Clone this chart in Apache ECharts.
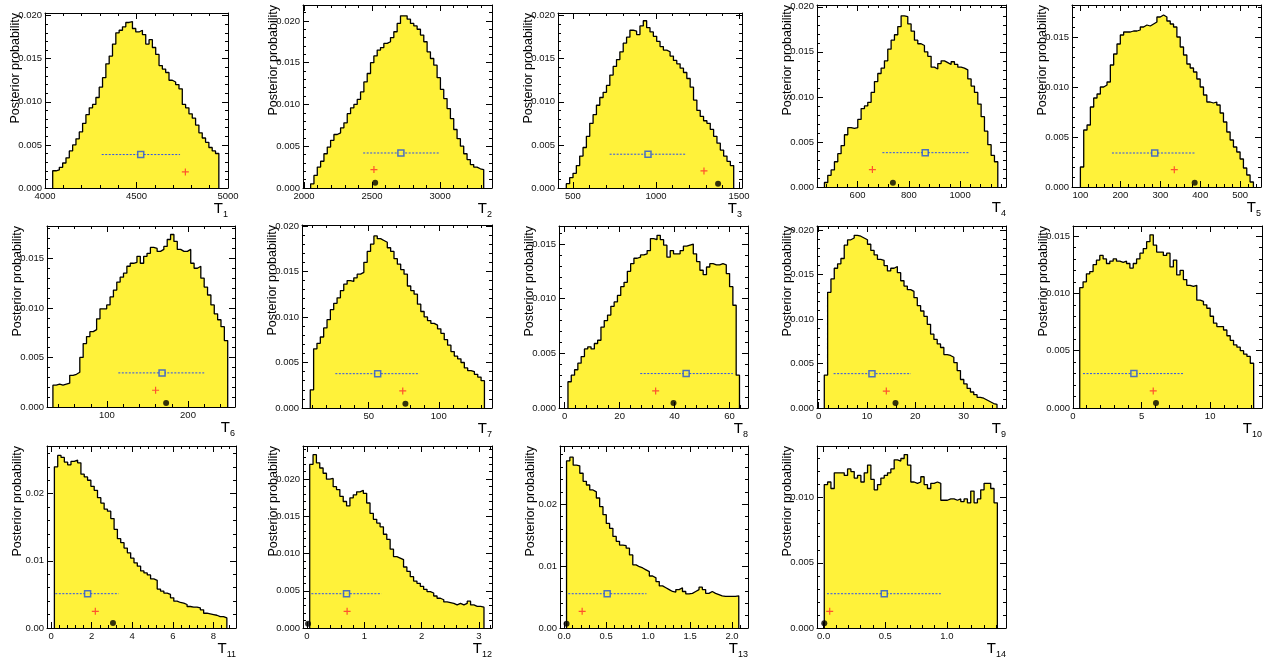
<!DOCTYPE html>
<html><head><meta charset="utf-8">
<script src="https://cdn.jsdelivr.net/npm/echarts@6/dist/echarts.min.js"></script>
<style>html,body{margin:0;padding:0;background:#fff}#c{width:1270px;height:660px}</style>
</head><body><div id="c"></div>
<script>
// ---------------- data ----------------
const subscripts = ['1','2','3','4','5','6','7','8','9','10','11','12','13','14'];
const histStart = [4042, 2049, 460, 471, 100, 33.3, 8.3, 1.2, 1.17, 0.49, 0.164, 0.047, 0.028, 0.005];
const histEnd   = [4950, 3320, 1468, 1147, 533, 249, 132.6, 63.6, 36.9, 13.17, 8.66, 3.09, 2.08, 1.41];
const h1 = [0.0020,0.0021,0.0024,0.0029,0.0035,0.0043,0.0050,0.0057,0.0065,0.0075,
 0.0085,0.0093,0.0097,0.0105,0.0117,0.0128,0.0144,0.0153,0.0167,0.0180,
 0.0183,0.0187,0.0192,0.0193,0.0185,0.0181,0.0183,0.0178,0.0167,0.0172,
 0.0163,0.0155,0.0142,0.0138,0.0134,0.0125,0.0123,0.0120,0.0115,0.0097,
 0.0093,0.0086,0.0081,0.0073,0.0064,0.0058,0.0053,0.0047,0.0043,0.0040];
const h2 = [0.0005,0.0015,0.0025,0.0032,0.0041,0.0049,0.0057,0.0064,0.0066,0.0072,
 0.0078,0.0089,0.0096,0.0100,0.0106,0.0115,0.0127,0.0137,0.0150,0.0158,
 0.0165,0.0168,0.0173,0.0175,0.0180,0.0187,0.0197,0.0206,0.0206,0.0202,
 0.0197,0.0194,0.0190,0.0183,0.0175,0.0163,0.0155,0.0147,0.0132,0.0118,
 0.0107,0.0095,0.0083,0.0070,0.0059,0.0050,0.0041,0.0034,0.0028,0.0025,
 0.0023,0.0022];
const h3 = [0.0005,0.0012,0.0017,0.0026,0.0037,0.0047,0.0060,0.0075,0.0085,0.0096,
 0.0105,0.0111,0.0119,0.0131,0.0141,0.0149,0.0158,0.0168,0.0175,0.0183,
 0.0182,0.0178,0.0188,0.0194,0.0186,0.0181,0.0176,0.0170,0.0164,0.0160,
 0.0158,0.0153,0.0148,0.0144,0.0139,0.0134,0.0127,0.0117,0.0102,0.0090,
 0.0083,0.0078,0.0075,0.0068,0.0060,0.0052,0.0044,0.0037,0.0031,0.0026];
const h4 = [0.0005,0.0013,0.0019,0.0028,0.0037,0.0046,0.0058,0.0066,0.0065,0.0066,
 0.0075,0.0087,0.0090,0.0094,0.0105,0.0117,0.0126,0.0132,0.0140,0.0153,
 0.0163,0.0169,0.0178,0.0190,0.0189,0.0181,0.0173,0.0163,0.0159,0.0157,
 0.0150,0.0145,0.0133,0.0131,0.0137,0.0140,0.0138,0.0136,0.0139,0.0136,
 0.0133,0.0132,0.0130,0.0120,0.0112,0.0105,0.0092,0.0078,0.0062,0.0047,
 0.0035,0.0028];
const h5 = [0.0020,0.0057,0.0062,0.0080,0.0089,0.0093,0.0100,0.0102,0.0105,0.0122,
 0.0133,0.0143,0.0152,0.0155,0.0155,0.0156,0.0156,0.0157,0.0160,0.0162,
 0.0161,0.0163,0.0165,0.0170,0.0172,0.0170,0.0166,0.0163,0.0160,0.0150,
 0.0140,0.0132,0.0123,0.0119,0.0115,0.0108,0.0100,0.0092,0.0085,0.0084,
 0.0085,0.0082,0.0074,0.0065,0.0055,0.0047,0.0040,0.0035,0.0028,0.0019,
 0.0012,0.0005];
const h6 = [0.0022,0.0023,0.0022,0.0023,0.0024,0.0032,0.0033,0.0035,0.0050,0.0064,
 0.0071,0.0076,0.0078,0.0089,0.0099,0.0099,0.0103,0.0111,0.0118,0.0126,
 0.0131,0.0135,0.0142,0.0145,0.0146,0.0152,0.0145,0.0152,0.0155,0.0161,
 0.0160,0.0157,0.0159,0.0162,0.0169,0.0174,0.0167,0.0159,0.0157,0.0157,
 0.0159,0.0145,0.0140,0.0142,0.0130,0.0121,0.0113,0.0103,0.0094,0.0088,
 0.0081,0.0067];
const h7 = [0.0020,0.0065,0.0071,0.0078,0.0088,0.0097,0.0108,0.0115,0.0121,0.0129,
 0.0136,0.0140,0.0139,0.0143,0.0147,0.0149,0.0160,0.0172,0.0180,0.0189,
 0.0186,0.0184,0.0182,0.0176,0.0172,0.0164,0.0158,0.0152,0.0147,0.0134,
 0.0129,0.0125,0.0114,0.0106,0.0100,0.0096,0.0093,0.0091,0.0087,0.0082,
 0.0075,0.0069,0.0062,0.0057,0.0054,0.0050,0.0044,0.0041,0.0040,0.0037,
 0.0034,0.0030];
const h8 = [0.0024,0.0030,0.0035,0.0041,0.0047,0.0054,0.0056,0.0054,0.0059,0.0062,
 0.0074,0.0080,0.0085,0.0093,0.0097,0.0103,0.0111,0.0115,0.0125,0.0132,
 0.0137,0.0138,0.0140,0.0141,0.0144,0.0155,0.0154,0.0158,0.0154,0.0149,
 0.0138,0.0144,0.0141,0.0141,0.0144,0.0148,0.0149,0.0150,0.0141,0.0134,
 0.0126,0.0122,0.0129,0.0132,0.0131,0.0131,0.0132,0.0131,0.0123,0.0111,
 0.0094,0.0030];
const h9 = [0.0037,0.0130,0.0145,0.0157,0.0162,0.0168,0.0183,0.0189,0.0191,0.0194,
 0.0193,0.0191,0.0189,0.0184,0.0177,0.0172,0.0167,0.0166,0.0160,0.0154,
 0.0157,0.0159,0.0152,0.0143,0.0137,0.0133,0.0131,0.0124,0.0115,0.0109,
 0.0103,0.0094,0.0083,0.0077,0.0072,0.0068,0.0060,0.0059,0.0057,0.0051,
 0.0042,0.0032,0.0027,0.0022,0.0018,0.0015,0.0012,0.0011,0.0009,0.0007,
 0.0005,0.0004];
const h10 = [0.0105,0.0110,0.0117,0.0119,0.0125,0.0129,0.0133,0.0130,0.0126,0.0128,
 0.0130,0.0128,0.0127,0.0128,0.0126,0.0122,0.0126,0.0130,0.0135,0.0139,
 0.0145,0.0151,0.0142,0.0136,0.0136,0.0133,0.0135,0.0123,0.0129,0.0116,
 0.0120,0.0112,0.0107,0.0106,0.0107,0.0094,0.0093,0.0090,0.0087,0.0080,
 0.0074,0.0071,0.0071,0.0068,0.0063,0.0059,0.0055,0.0053,0.0050,0.0047,
 0.0045,0.0039];
const h11 = [0.0240,0.0257,0.0254,0.0247,0.0243,0.0248,0.0250,0.0246,0.0229,0.0225,
 0.0220,0.0211,0.0205,0.0194,0.0186,0.0177,0.0174,0.0163,0.0147,0.0133,
 0.0127,0.0119,0.0112,0.0104,0.0097,0.0092,0.0085,0.0082,0.0079,0.0073,
 0.0071,0.0058,0.0055,0.0052,0.0050,0.0045,0.0040,0.0038,0.0037,0.0035,
 0.0032,0.0031,0.0031,0.0030,0.0027,0.0022,0.0021,0.0020,0.0019,0.0017,
 0.0017,0.0015];
const h12 = [0.0220,0.0233,0.0222,0.0215,0.0208,0.0200,0.0201,0.0190,0.0186,0.0177,
 0.0170,0.0164,0.0175,0.0179,0.0183,0.0185,0.0181,0.0168,0.0154,0.0146,
 0.0141,0.0136,0.0126,0.0119,0.0106,0.0096,0.0094,0.0092,0.0082,0.0076,
 0.0069,0.0063,0.0060,0.0056,0.0052,0.0049,0.0047,0.0043,0.0040,0.0038,
 0.0035,0.0034,0.0033,0.0031,0.0033,0.0031,0.0033,0.0036,0.0031,0.0029,
 0.0029,0.0028];
const h13 = [0.0270,0.0276,0.0263,0.0262,0.0250,0.0237,0.0231,0.0223,0.0220,0.0210,
 0.0196,0.0183,0.0169,0.0161,0.0148,0.0140,0.0134,0.0133,0.0129,0.0118,
 0.0102,0.0099,0.0097,0.0094,0.0091,0.0084,0.0081,0.0075,0.0068,0.0065,
 0.0062,0.0059,0.0058,0.0062,0.0065,0.0059,0.0055,0.0056,0.0059,0.0062,
 0.0066,0.0062,0.0056,0.0059,0.0056,0.0054,0.0052,0.0051,0.0051,0.0051,
 0.0051,0.0052];
const h14 = [0.0110,0.0112,0.0107,0.0119,0.0119,0.0119,0.0117,0.0122,0.0120,0.0115,
 0.0117,0.0112,0.0119,0.0125,0.0114,0.0106,0.0110,0.0115,0.0117,0.0119,
 0.0122,0.0129,0.0128,0.0130,0.0133,0.0125,0.0112,0.0111,0.0112,0.0116,
 0.0110,0.0107,0.0111,0.0112,0.0111,0.0098,0.0098,0.0099,0.0099,0.0098,
 0.0099,0.0097,0.0099,0.0096,0.0105,0.0096,0.0099,0.0106,0.0111,0.0111,
 0.0107,0.0096];
const histValues = [h1,h2,h3,h4,h5,h6,h7,h8,h9,h10,h11,h12,h13,h14];

const meanX = [4523, 2712, 952, 864, 286, 168, 56.4, 44.2, 11.03, 4.44, 1.80, 0.69, 0.512, 0.492];
const meanY = [0.00388, 0.00419, 0.00392, 0.00381, 0.0034, 0.00344, 0.00377, 0.00315, 0.00386, 0.0030, 0.00511, 0.00461, 0.00554, 0.00263];
const errLo = [4310, 2435, 721, 697, 179, 114, 26.2, 27.5, 3.1, 0.73, 0.21, 0.076, 0.048, 0.027];
const errHi = [4738, 2993, 1177, 1036, 389, 220, 86.2, 61.2, 19.1, 8.05, 3.33, 1.30, 0.98, 0.951];
const plusX = [4767, 2514, 1289, 658, 335, 160, 74.3, 33.1, 14.0, 5.85, 2.18, 0.70, 0.214, 0.049];
const plusY = [0.00186, 0.0022, 0.00198, 0.00193, 0.00173, 0.00169, 0.00187, 0.00156, 0.0019, 0.00149, 0.00248, 0.00224, 0.00269, 0.00128];
const dotX = [null, 2523, 1374, 738, 386, 173, 76.2, 39.6, 15.9, 6.05, 3.05, 0.018, 0.028, 0.005];
const dotY = [null, 0.00064, 0.0005, 0.00048, 0.00043, 0.0004, 0.00048, 0.00046, 0.00056, 0.00044, 0.00074, 0.00058, 0.0007, 0.00036];

// axis ranges and tick steps
const xMin = [4000, 1993, 410, 442, 79, 26, 2.4, -2.06, -0.34, 0, -0.2, -0.07, -0.05, -0.054];
const xMax = [5000, 3381, 1518, 1179, 552, 258, 138, 66.7, 38.76, 13.78, 9.11, 3.23, 2.19, 1.48];
const yMax = [0.0203, 0.0219, 0.0203, 0.0202, 0.0182, 0.01826, 0.0201, 0.01665, 0.02045, 0.01587, 0.0271, 0.02446, 0.0294, 0.01396];
const xStep = [500, 500, 500, 200, 100, 100, 50, 20, 10, 5, 2, 1, 0.5, 0.5];
const yStep = [0.005,0.005,0.005,0.005,0.005,0.005,0.005,0.005,0.005,0.005,0.01,0.005,0.01,0.005];
const xDecimals = [0,0,0,0,0,0,0,0,0,0,0,0,1,1];
const yDecimals = [3,3,3,3,3,3,3,3,3,3,2,3,2,3];

// ---------------- layout (frame boxes: left, top, right, bottom) ----------------
const frames = [
 [45,13,228,188],[303,5,492,188],[558,13,742,188],[817,5,1006,187],[1072,5,1261,187],
 [47,226,235,407],[302,225,492,408],[559,226,748,408],[817,226,1006,408],[1073,226,1262,408],
 [47,446,236,628],[303,446,492,628],[560,446,748,628],[817,446,1006,628]
];

const FONT = 'Liberation Sans, Arial, Helvetica, sans-serif';
const YELLOW = '#fff23a';
const N = frames.length;

function fmt(step, dec) {
  return function (v) {
    const k = v / step;
    if (Math.abs(k - Math.round(k)) > 1e-6) return '';
    return (Math.round(k) * step).toFixed(dec);
  };
}

const grids = [], xAxes = [], yAxes = [], series = [];
for (let i = 0; i < N; i++) {
  const f = frames[i];
  grids.push({left: f[0], top: f[1], width: f[2] - f[0], height: f[3] - f[1], show: false, containLabel: false, outerBoundsMode: 'none'});
}
function tickCommon() {
  return {
    axisLine: {show: true, onZero: false, lineStyle: {color: '#000', width: 1}},
    axisTick: {show: true, inside: true, length: 6, lineStyle: {color: '#000', width: 1}},
    minorTick: {show: true, splitNumber: 5, length: 3, lineStyle: {color: '#000', width: 1}},
    splitLine: {show: false}, minorSplitLine: {show: false}, z: 5
  };
}
for (let pass = 0; pass < 2; pass++) {
  for (let i = 0; i < N; i++) {
    const xa = Object.assign(tickCommon(), {
      type: 'value', gridIndex: i, position: pass === 0 ? 'bottom' : 'top',
      min: xMin[i], max: xMax[i], minInterval: xStep[i], maxInterval: xStep[i], splitNumber: 3,
      axisLabel: {show: pass === 0, margin: 3, fontSize: 9.5, color: '#111', fontFamily: FONT,
        formatter: fmt(xStep[i], xDecimals[i]), hideOverlap: false},
      nameMoveOverlap: false
    });
    if (pass === 0) {
      xa.name = '{a|T}{b|' + subscripts[i] + '}';
      xa.nameLocation = 'end';
      xa.nameGap = 0;
      xa.nameTextStyle = {align: 'right', verticalAlign: 'top', padding: [10, 0, 0, 0], fontFamily: FONT, color: '#000',
        rich: {a: {fontSize: 15, fontFamily: FONT, color: '#000'},
               b: {fontSize: 9, padding: [12, 0, 0, 0], fontFamily: FONT, color: '#000'}}};
    }
    xAxes.push(xa);
    const ya = Object.assign(tickCommon(), {
      type: 'value', gridIndex: i, position: pass === 0 ? 'left' : 'right',
      min: 0, max: yMax[i], minInterval: yStep[i], maxInterval: yStep[i], splitNumber: 4,
      axisLabel: {show: pass === 0, margin: 3, fontSize: 9.5, color: '#111', fontFamily: FONT,
        formatter: fmt(yStep[i], yDecimals[i]), hideOverlap: false},
      nameMoveOverlap: false
    });
    if (pass === 0) {
      ya.name = 'Posterior probability';
      ya.nameLocation = 'end';
      ya.nameRotate = 90;
      ya.nameGap = 0;
      ya.nameTextStyle = {align: 'right', verticalAlign: 'bottom', padding: [0, 0, 23, 0], fontSize: 12.5, color: '#000', fontFamily: FONT};
    }
    yAxes.push(ya);
  }
}

for (let i = 0; i < N; i++) {
  const vals = histValues[i];
  const n = vals.length, s = histStart[i], e = histEnd[i], w = (e - s) / n;
  const pts = [[s, 0]];
  for (let k = 0; k < n; k++) pts.push([s + k * w, vals[k]]);
  pts.push([e, vals[n - 1]]);
  pts.push([e, 0]);
  series.push({type: 'line', xAxisIndex: i, yAxisIndex: i, data: pts, step: 'end', symbol: 'none', showSymbol: false,
    lineStyle: {color: '#000', width: 1.3}, areaStyle: {color: YELLOW, opacity: 1}, z: 2, silent: true});
  series.push({type: 'line', xAxisIndex: i, yAxisIndex: i, data: [[errLo[i], meanY[i]], [errHi[i], meanY[i]]],
    symbol: 'none', lineStyle: {color: '#2a50f0', width: 1, type: [2, 1.5]}, z: 3, silent: true});
  series.push({type: 'scatter', xAxisIndex: i, yAxisIndex: i, data: [[meanX[i], meanY[i]]], symbol: 'rect', symbolSize: 6,
    itemStyle: {color: YELLOW, borderColor: '#1e4fe0', borderWidth: 1.5}, z: 4, silent: true});
  series.push({type: 'scatter', xAxisIndex: i, yAxisIndex: i, data: [[plusX[i], plusY[i]]],
    symbol: 'path://M5 0 L5 10 M0 5 L10 5', symbolSize: 7,
    itemStyle: {color: 'none', borderColor: '#ff2a2a', borderWidth: 1.2}, z: 4, silent: true});
  if (dotX[i] !== null) {
    series.push({type: 'scatter', xAxisIndex: i, yAxisIndex: i, data: [[dotX[i], dotY[i]]], symbol: 'circle', symbolSize: 6,
      itemStyle: {color: '#000'}, z: 4, silent: true, clip: false});
  }
}

const chart = echarts.init(document.getElementById('c'), null, {renderer: 'canvas'});
chart.setOption({animation: false, backgroundColor: '#fff', grid: grids, xAxis: xAxes, yAxis: yAxes, series: series});
</script>
</body></html>
